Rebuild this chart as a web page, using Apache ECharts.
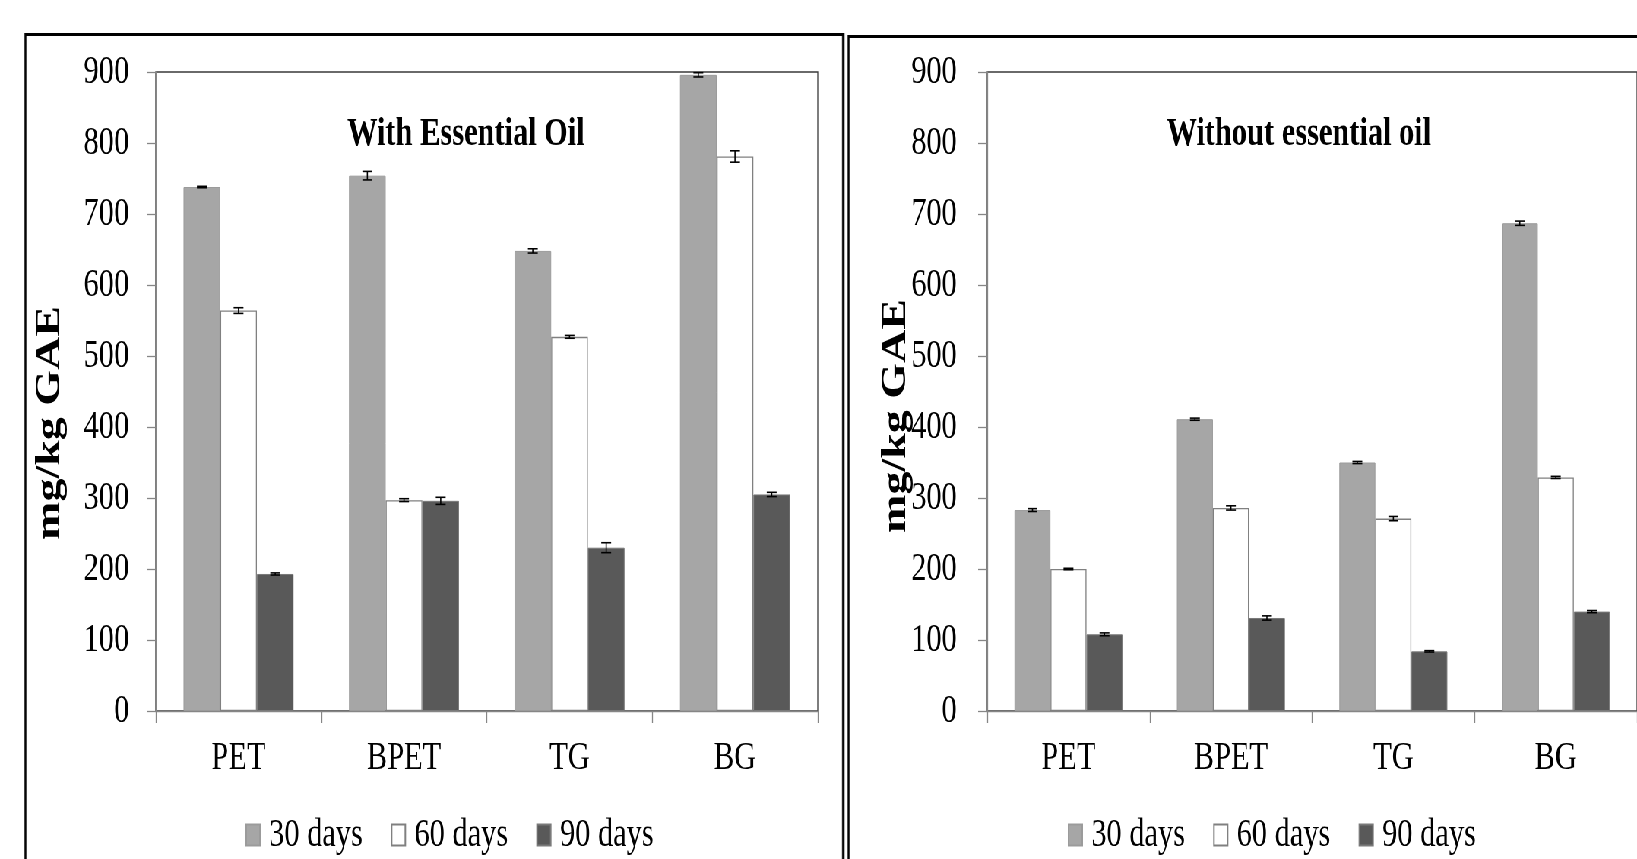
<!DOCTYPE html>
<html>
<head>
<meta charset="utf-8">
<script src="https://cdn.jsdelivr.net/npm/echarts@6/dist/echarts.min.js"></script>
<style>
html,body{margin:0;padding:0;background:#fff;overflow:hidden;width:1637px;height:859px;}
/* the source figure is squeezed sideways, so the whole stage is drawn wide and scaled back */
#stage{position:absolute;left:0;top:0;width:2154px;height:859px;transform:scaleX(0.76);transform-origin:0 0;}
#chart{position:absolute;left:0;top:0;width:2154px;height:859px;}
.frame{position:absolute;border:3px solid #000;box-sizing:border-box;}
</style>
</head>
<body>
<div id="stage">
  <div class="frame" style="left:32px;top:33px;width:1079px;height:900px;"></div>
  <div class="frame" style="left:1115px;top:35px;width:1200px;height:900px;"></div>
  <div id="chart"></div>
</div>
<script>
var categories = ['PET', 'BPET', 'TG', 'BG'];
var seriesNames = ['30 days', '60 days', '90 days'];
var yTicks = [0, 900, 100]; // min, max, step

// With essential oil
var withOil30 = [738, 754, 648, 896];
var withOil60 = [564, 297, 527, 781];
var withOil90 = [193, 296, 230, 305];
var withOilErr30 = [1, 6, 3, 3];
var withOilErr60 = [4, 2, 2, 8];
var withOilErr90 = [1.5, 5, 7, 3];

// Without essential oil
var noOil30 = [283, 411, 350, 687];
var noOil60 = [200, 286, 271, 329];
var noOil90 = [108, 131, 84, 140];
var noOilErr30 = [2, 1.5, 1.5, 3];
var noOilErr60 = [1, 3, 3, 1.5];
var noOilErr90 = [2, 3, 1, 1.5];

var FONT = 'Liberation Serif';
var CAT_GAP = 0.335;
var barStyles = [
  {color: '#a6a6a6', borderColor: '#9b9b9b', borderWidth: 1},
  {color: '#ffffff', borderColor: '#808080', borderWidth: 1.3},
  {color: '#595959', borderColor: '#7a7a7a', borderWidth: 1}
];

var chart = echarts.init(document.getElementById('chart'));

function errorItem(barIndex) {
  return function (params, api) {
    var cat = api.value(0), val = api.value(1), err = api.value(2);
    var bandW = api.size([1, 0])[0];
    var barW = bandW * (1 - CAT_GAP) / 3;
    var top = api.coord([cat, val + err]);
    var bot = api.coord([cat, val - err]);
    var x = top[0] + (barIndex - 1) * barW;
    var half = 6.5;
    var st = {stroke: '#000', lineWidth: 1.6};
    return {type: 'group', children: [
      {type: 'line', shape: {x1: x, y1: top[1], x2: x, y2: bot[1]}, style: st},
      {type: 'line', shape: {x1: x - half, y1: top[1], x2: x + half, y2: top[1]}, style: st},
      {type: 'line', shape: {x1: x - half, y1: bot[1], x2: x + half, y2: bot[1]}, style: st}
    ]};
  };
}

function errData(vals, errs) {
  var out = [];
  vals.forEach(function (v, i) { out.push([i, v, errs[i]]); });
  return out;
}

function makeX(gridIndex) {
  return {
    type: 'category', gridIndex: gridIndex, data: categories,
    axisLine: {lineStyle: {color: '#868686', width: 1.3}},
    axisTick: {show: true, length: 12, lineStyle: {color: '#868686', width: 1.3}},
    axisLabel: {color: '#000', fontFamily: FONT, fontSize: 40, margin: 27}
  };
}

function makeY(gridIndex, labelMargin, nameGap, namePad) {
  return {
    type: 'value', gridIndex: gridIndex, min: yTicks[0], max: yTicks[1], interval: yTicks[2],
    name: 'mg/kg GAE', nameLocation: 'middle', nameGap: nameGap, nameMoveOverlap: false,
    nameTextStyle: {color: '#000', fontFamily: FONT, fontWeight: 'bold', fontSize: 46, padding: [0, namePad, 0, 0]},
    axisLine: {show: true, lineStyle: {color: '#868686', width: 1.3}},
    axisTick: {show: true, length: 12, lineStyle: {color: '#868686', width: 1.3}},
    axisLabel: {color: '#000', fontFamily: FONT, fontSize: 40, margin: labelMargin},
    splitLine: {show: false}
  };
}

var groups = [
  {vals: [withOil30, withOil60, withOil90], errs: [withOilErr30, withOilErr60, withOilErr90]},
  {vals: [noOil30, noOil60, noOil90], errs: [noOilErr30, noOilErr60, noOilErr90]}
];

var series = [];
groups.forEach(function (g, gi) {
  seriesNames.forEach(function (name, si) {
    series.push({
      name: name, type: 'bar', xAxisIndex: gi, yAxisIndex: gi,
      data: g.vals[si], barGap: '0%', barCategoryGap: (CAT_GAP * 100) + '%',
      itemStyle: barStyles[si], silent: true
    });
  });
  seriesNames.forEach(function (name, si) {
    series.push({
      name: name + ' error', type: 'custom', xAxisIndex: gi, yAxisIndex: gi,
      renderItem: errorItem(si), encode: {x: 0, y: 1},
      data: errData(g.vals[si], g.errs[si]), z: 5, silent: true
    });
  });
});

function makeLegend(left) {
  return {
    data: seriesNames, left: left, top: 810, icon: 'rect',
    itemWidth: 18, itemHeight: 21, itemGap: 37,
    textStyle: {color: '#000', fontFamily: FONT, fontSize: 40, padding: [0, 0, 0, 7]}
  };
}

chart.setOption({
  animation: false,
  grid: [
    {left: 205, top: 72, width: 871, height: 639, show: true, borderColor: '#3a3a3a', borderWidth: 1.3},
    {left: 1299, top: 72, width: 866, height: 639, show: true, borderColor: '#3a3a3a', borderWidth: 1.3}
  ],
  title: [
    {text: 'With Essential Oil', left: 608, top: 110, textAlign: 'center',
     textStyle: {color: '#000', fontFamily: FONT, fontWeight: 'bold', fontSize: 40}},
    {text: 'Without essential oil', left: 1704, top: 110, textAlign: 'center',
     textStyle: {color: '#000', fontFamily: FONT, fontWeight: 'bold', fontSize: 40}}
  ],
  legend: [makeLegend(318), makeLegend(1400)],
  xAxis: [makeX(0), makeX(1)],
  yAxis: [makeY(0, 35, 116, 63), makeY(1, 40, 97, 49)],
  series: series
});
</script>
</body>
</html>
